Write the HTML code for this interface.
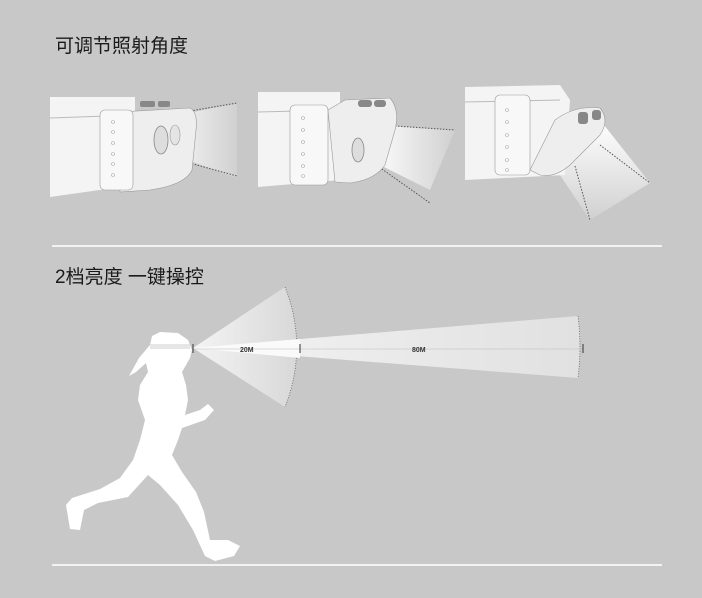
<!DOCTYPE html>
<html><head><meta charset="utf-8"><style>
html,body{margin:0;padding:0;background:#c8c8c8;}
svg{display:block}
</style></head><body>
<svg width="702" height="598" viewBox="0 0 702 598" xmlns="http://www.w3.org/2000/svg">
<defs>
<linearGradient id="beam" x1="0" x2="1" y1="0" y2="0"><stop offset="0" stop-color="#fff"/><stop offset="1" stop-color="#fff" stop-opacity="0.15"/></linearGradient>
<linearGradient id="beamd" x1="0" x2="0" y1="0" y2="1"><stop offset="0" stop-color="#fff"/><stop offset="1" stop-color="#fff" stop-opacity="0.15"/></linearGradient>
<linearGradient id="cone" x1="0" x2="1"><stop offset="0" stop-color="#f4f4f4"/><stop offset="1" stop-color="#d8d8d8"/></linearGradient>
<linearGradient id="cone2" x1="0" x2="1"><stop offset="0" stop-color="#f6f6f6"/><stop offset="1" stop-color="#e2e2e2"/></linearGradient>
</defs>
<rect width="702" height="598" fill="#c8c8c8"/>
<text x="55" y="52" font-family="Liberation Sans, Noto Sans CJK SC, sans-serif" font-size="19" fill="#1a1a1a">可调节照射角度</text>
<text x="55" y="283" font-family="Liberation Sans, Noto Sans CJK SC, sans-serif" font-size="19" fill="#1a1a1a">2档亮度 一键操控</text>
<rect x="52" y="245" width="610" height="2" fill="#f2f2f2"/>
<rect x="52" y="564" width="610" height="2" fill="#f2f2f2"/>

<!-- panel 1 -->
<g>
<polygon points="155,120 237,103 237,178 160,150" fill="url(#beam)"/>
<line x1="155" y1="117" x2="237" y2="103" stroke="#555" stroke-dasharray="1.5,1.5"/>
<line x1="160" y1="155" x2="237" y2="176" stroke="#555" stroke-dasharray="1.5,1.5"/>
<polygon points="50,97 135,97 135,185 50,197" fill="#f4f4f4"/>
<line x1="50" y1="118" x2="135" y2="115" stroke="#bbb"/>
<path d="M120,112 L190,108 Q198,112 196,130 L192,170 Q185,185 150,190 L120,192 Z" fill="#eeeeee" stroke="#999" stroke-width="0.6"/>
<rect x="100" y="110" width="33" height="80" rx="5" fill="#f8f8f8" stroke="#999" stroke-width="0.6"/>
<g fill="none" stroke="#aaa" stroke-width="0.6"><circle cx="113" cy="122" r="1.5"/><circle cx="113" cy="132" r="1.5"/><circle cx="113" cy="143" r="1.5"/><circle cx="113" cy="154" r="1.5"/><circle cx="113" cy="164" r="1.5"/><circle cx="113" cy="175" r="1.5"/></g>
<ellipse cx="161" cy="140" rx="7" ry="14" fill="#ddd" stroke="#888" stroke-width="0.8"/>
<ellipse cx="175" cy="135" rx="5" ry="10" fill="#e4e4e4" stroke="#999" stroke-width="0.6"/>
<rect x="140" y="101" width="15" height="6" rx="2" fill="#888"/><rect x="158" y="101" width="12" height="6" rx="2" fill="#888"/>
</g>
<!-- panel 2 -->
<g>
<polygon points="380,125 455,130 430,190 370,160" fill="url(#beam)"/>
<line x1="380" y1="125" x2="455" y2="130" stroke="#555" stroke-dasharray="1.5,1.5"/>
<line x1="372" y1="162" x2="430" y2="203" stroke="#555" stroke-dasharray="1.5,1.5"/>
<polygon points="258,92 340,92 340,180 258,187" fill="#f4f4f4"/>
<line x1="258" y1="112" x2="340" y2="110" stroke="#bbb"/>
<rect x="290" y="105" width="38" height="80" rx="5" fill="#f8f8f8" stroke="#999" stroke-width="0.6"/>
<g fill="none" stroke="#aaa" stroke-width="0.6"><circle cx="303" cy="118" r="1.5"/><circle cx="303" cy="130" r="1.5"/><circle cx="303" cy="142" r="1.5"/><circle cx="303" cy="154" r="1.5"/><circle cx="303" cy="166" r="1.5"/><circle cx="303" cy="176" r="1.5"/></g>
<path d="M328,110 L345,100 L390,98 Q400,110 395,130 L385,165 Q375,180 350,183 L335,182 Z" fill="#eeeeee" stroke="#999" stroke-width="0.6"/>
<ellipse cx="358" cy="150" rx="6" ry="12" fill="#ddd" stroke="#888" stroke-width="0.8"/>
<rect x="358" y="100" width="14" height="7" rx="3" fill="#888"/><rect x="374" y="100" width="12" height="7" rx="3" fill="#888"/>
</g>
<!-- panel 3 -->
<g>
<polygon points="550,160 600,120 650,183 590,220" fill="url(#beamd)"/>
<line x1="600" y1="145" x2="650" y2="183" stroke="#555" stroke-dasharray="1.5,1.5"/>
<line x1="575" y1="166" x2="590" y2="220" stroke="#555" stroke-dasharray="1.5,1.5"/>
<polygon points="465,87 560,85 570,100 565,175 465,180" fill="#f4f4f4"/>
<line x1="465" y1="102" x2="560" y2="100" stroke="#bbb"/>
<rect x="495" y="95" width="35" height="80" rx="5" fill="#f8f8f8" stroke="#999" stroke-width="0.6"/>
<g fill="none" stroke="#aaa" stroke-width="0.6"><circle cx="507" cy="110" r="1.5"/><circle cx="507" cy="122" r="1.5"/><circle cx="507" cy="135" r="1.5"/><circle cx="507" cy="147" r="1.5"/><circle cx="507" cy="160" r="1.5"/><circle cx="507" cy="170" r="1.5"/></g>
<path d="M530,170 L555,120 Q575,105 600,108 Q610,120 600,135 L570,165 Q555,178 540,175 Z" fill="#eeeeee" stroke="#999" stroke-width="0.6"/>
<rect x="578" y="112" width="10" height="12" rx="3" fill="#888"/><rect x="592" y="110" width="9" height="10" rx="3" fill="#888"/>
</g>

<!-- beams -->
<path d="M193,348 L285,287 A160,160 0 0 1 285,407 Z" fill="url(#cone)"/>
<path d="M285,287 A160,160 0 0 1 285,407" fill="none" stroke="#666" stroke-dasharray="1,1.5" stroke-width="0.8"/>
<path d="M193,348 L578,316 A250,250 0 0 1 578,378 Z" fill="url(#cone2)" opacity="0.95"/>
<path d="M193,348 L300,339 L300,358 Z" fill="#fafafa"/>
<path d="M578,316 A250,250 0 0 1 578,378" fill="none" stroke="#666" stroke-dasharray="1,1.5" stroke-width="0.8"/>
<line x1="193" y1="349" x2="583" y2="349" stroke="#bbb" stroke-width="0.6"/>
<line x1="193" y1="344" x2="193" y2="353" stroke="#333"/>
<line x1="300" y1="344" x2="300" y2="353" stroke="#333"/>
<line x1="583" y1="344" x2="583" y2="353" stroke="#333"/>
<text x="240" y="352" font-family="Liberation Sans, sans-serif" font-size="7" font-weight="bold" fill="#333">20M</text>
<text x="412" y="352" font-family="Liberation Sans, sans-serif" font-size="7" font-weight="bold" fill="#333">80M</text>

<!-- runner -->
<polygon fill="#fff" points="160,332 178,333 188,340 192,350 190,358 186,365 182,372 186,385 188,400 185,415 200,410 208,404 214,410 205,420 182,428 178,440 172,455 182,472 196,492 204,512 210,540 228,540 240,546 234,556 215,561 205,556 193,530 178,505 160,485 148,475 128,497 98,503 84,510 80,530 70,529 66,505 72,498 100,489 120,478 133,460 140,440 145,420 138,400 140,385 148,372 146,363 136,372 129,376 139,358 150,345 152,336"/>
<rect x="150" y="344" width="40" height="5" fill="#e6e6e6"/>
</svg>
</body></html>
